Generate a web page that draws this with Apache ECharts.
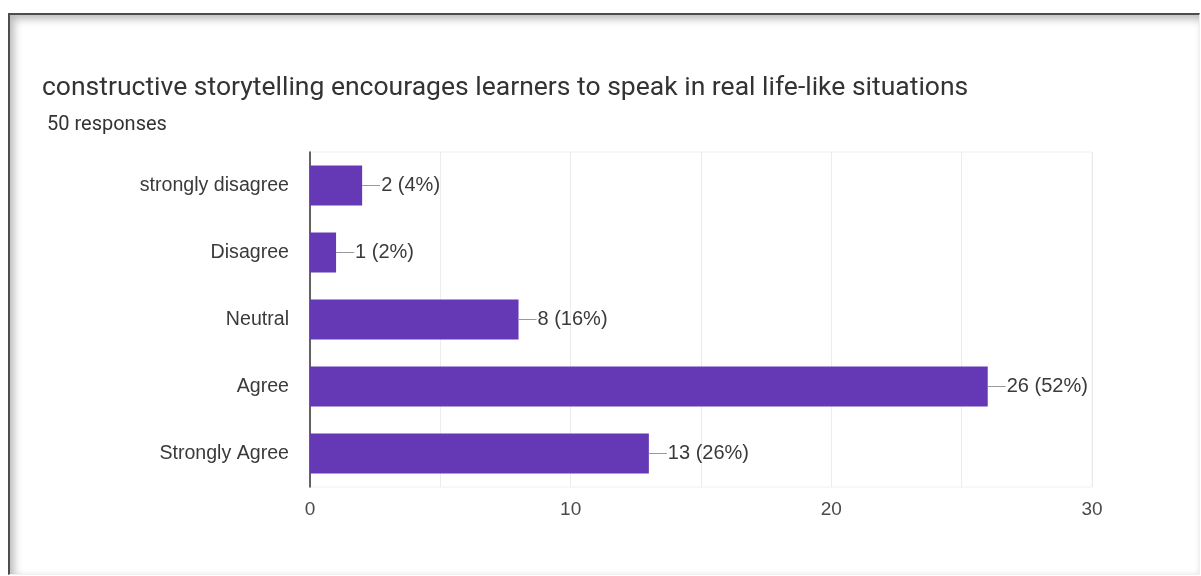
<!DOCTYPE html>
<html>
<head>
<meta charset="utf-8">
<script src="https://cdn.jsdelivr.net/npm/echarts@6/dist/echarts.min.js"></script>
<style>
  html, body { margin: 0; padding: 0; background: #ffffff; }
  #wrap { position: relative; width: 1201px; height: 576px; overflow: hidden; background: #ffffff; }
  #frame {
    position: absolute; left: 8px; top: 13px; right: 1px; bottom: 1px;
    border-top: 2px solid #4d4d4d; border-left: 2px solid #4d4d4d;
    border-right: 1px solid #f0f0f0; border-bottom: 1px solid #f0f0f0;
    box-shadow: inset 4px 4px 9px rgba(0,0,0,0.28);
  }
  #chart { position: absolute; left: 0; top: 0; width: 1201px; height: 576px; }
</style>
</head>
<body>
<div id="wrap">
  <div id="frame"></div>
  <div id="chart"></div>
</div>
<script>
// Survey answers, top to bottom
const categories = ['strongly disagree', 'Disagree', 'Neutral', 'Agree', 'Strongly Agree'];
const counts = [2, 1, 8, 26, 13];
const totalResponses = 50;
const xTicks = [0, 10, 20, 30];

const titleText = 'constructive storytelling encourages learners to speak in real life-like situations';
const subText = totalResponses + ' responses';

const chart = echarts.init(document.getElementById('chart'), null, { renderer: 'canvas' });

const labelFont = '"Liberation Sans", Arial, sans-serif';

chart.setOption({
  backgroundColor: 'transparent',
  animation: false,
  title: [
    {
      text: titleText,
      left: 37, top: 70,
      textStyle: { fontFamily: 'Roboto, sans-serif', fontSize: 26.5, fontWeight: 'normal', color: '#333333' }
    },
    {
      text: subText,
      left: 42, top: 110,
      textStyle: { fontFamily: 'Roboto, sans-serif', fontSize: 20, fontWeight: 'normal', color: '#333333' }
    }
  ],
  grid: {
    left: 310, right: 109, top: 152, bottom: 89,
    show: true, borderColor: '#f0f0f0', borderWidth: 1
  },
  xAxis: {
    type: 'value',
    min: xTicks[0],
    max: xTicks[xTicks.length - 1],
    interval: xTicks[1] - xTicks[0],
    axisLine: { show: false },
    axisTick: { show: false },
    axisLabel: { margin: 13, fontFamily: labelFont, fontSize: 19, color: '#4a4a4a' },
    splitLine: { lineStyle: { color: '#ececec', width: 1 } },
    minorTick: { show: false, splitNumber: 2 },
    minorSplitLine: { show: true, lineStyle: { color: '#ececec', width: 1 } }
  },
  yAxis: {
    type: 'category',
    data: categories,
    inverse: true,
    axisLine: { show: true, lineStyle: { color: '#333333', width: 1.5 } },
    axisTick: { show: false },
    axisLabel: { margin: 21, fontFamily: labelFont, fontSize: 19.6, color: '#3a3a3a' }
  },
  series: [{
    type: 'bar',
    data: counts,
    barCategoryGap: '40%',
    itemStyle: { color: '#6538b5' },
    label: {
      show: true,
      position: 'right',
      distance: 0,
      formatter: function (p) {
        const pct = Math.round(p.value / totalResponses * 100);
        return '{l|}{t|' + p.value + ' (' + pct + '%)}';
      },
      rich: {
        l: { width: 18, height: 1, backgroundColor: '#999999' },
        t: { fontFamily: labelFont, fontSize: 20, color: '#3a3a3a', padding: [0, 0, 0, 1] }
      }
    }
  }]
});
</script>
</body>
</html>
